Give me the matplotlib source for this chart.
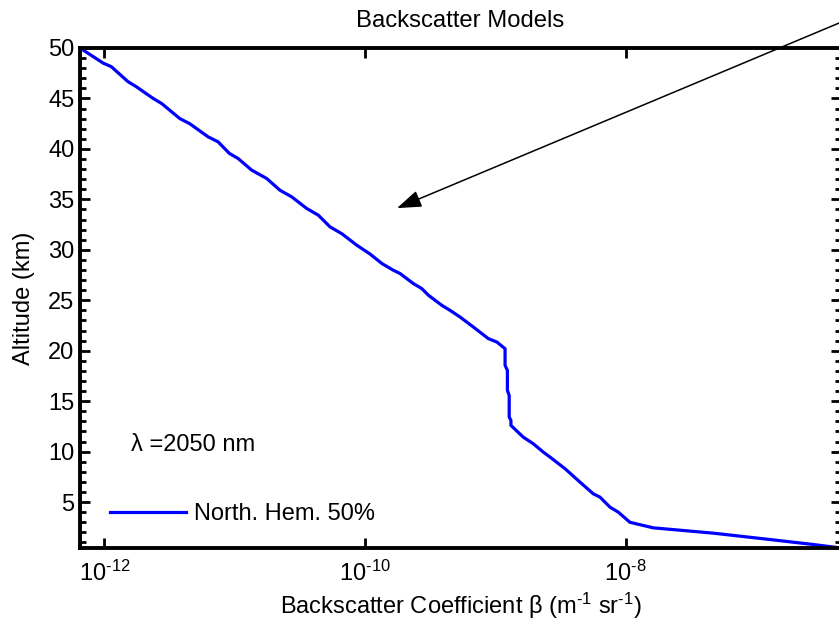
import numpy as np
import matplotlib
matplotlib.use("Agg")
from matplotlib import pyplot as plt
from matplotlib.ticker import FixedLocator, FixedFormatter, NullLocator, MultipleLocator

plt.rcParams['font.family'] = ['Liberation Sans', 'DejaVu Sans']
plt.rcParams['mathtext.fontset'] = 'custom'
plt.rcParams['mathtext.rm'] = 'Liberation Sans'
plt.rcParams['mathtext.it'] = 'Liberation Sans'
plt.rcParams['axes.unicode_minus'] = False
plt.rcParams['font.size'] = 17

# profile: altitude (km) vs backscatter (m^-1 sr^-1)
altitude = [50.0, 48.5, 48.15, 46.66, 46.16, 45.0, 44.5, 43.0, 42.5, 41.2,
            40.7, 39.55, 39.06, 37.9, 37.07, 35.9, 35.25, 34.1, 33.43, 32.27,
            31.6, 30.46, 29.6, 28.64, 27.98, 27.65, 26.66, 26.16, 25.5, 24.5,
            24.0, 23.34, 22.35, 21.2, 20.86, 20.2, 18.55, 18.05, 16.07, 15.57,
            13.42, 13.1, 12.6, 11.44, 10.78, 9.95, 9.45, 8.3, 6.97, 5.82,
            5.49, 4.5, 4.0, 3.0, 2.45, 1.92, 1.36, 0.8, 0.47]
beta = [6.50e-13, 9.8e-13, 1.13e-12, 1.52e-12, 1.76e-12, 2.37e-12, 2.75e-12, 3.80e-12, 4.52e-12, 6.25e-12,
        7.46e-12, 9.12e-12, 1.06e-11, 1.35e-11, 1.76e-11, 2.23e-11, 2.74e-11, 3.57e-11, 4.39e-11, 5.40e-11,
        6.64e-11, 8.65e-11, 1.09e-10, 1.35e-10, 1.65e-10, 1.86e-10, 2.35e-10, 2.73e-10, 3.07e-10, 3.89e-10,
        4.50e-10, 5.37e-10, 6.79e-10, 8.85e-10, 1.03e-9, 1.19e-9, 1.19e-9, 1.24e-9, 1.24e-9, 1.28e-9,
        1.28e-9, 1.32e-9, 1.32e-9, 1.64e-9, 1.96e-9, 2.34e-9, 2.64e-9, 3.44e-9, 4.48e-9, 5.66e-9,
        6.37e-9, 7.60e-9, 8.81e-9, 1.08e-8, 1.63e-8, 4.72e-8, 1.15e-7, 2.75e-7, 4.37e-7]

x_ticks = [1e-12, 1e-10, 1e-8]
x_tick_labels = [r'10$^{\text{-12}}$', r'10$^{\text{-10}}$', r'10$^{\text{-8}}$']
y_ticks = [5, 10, 15, 20, 25, 30, 35, 40, 45, 50]

fig = plt.figure(figsize=(8.39, 6.29), dpi=100)
ax = fig.add_axes([80 / 839, 1 - 548 / 629, 761 / 839, 500 / 629])

ax.semilogx(beta, altitude, color='#0000ff', lw=2.3, label='North. Hem. 50%')
ax.set_xlim(10 ** -12.187, 10 ** -6.346)
ax.set_ylim(0.45, 50)

ax.xaxis.set_major_locator(FixedLocator(x_ticks))
ax.xaxis.set_major_formatter(FixedFormatter(x_tick_labels))
ax.xaxis.set_minor_locator(NullLocator())
ax.set_yticks(y_ticks)
ax.yaxis.set_minor_locator(MultipleLocator(1))

for s in ax.spines.values():
    s.set_linewidth(2.8)
ax.tick_params(which='both', direction='in', top=True, right=True, width=2.0)
ax.tick_params(which='major', length=7.5)
ax.tick_params(which='minor', length=4)
ax.tick_params(axis='x', pad=9)
ax.tick_params(axis='y', pad=4)

ax.set_title('Backscatter Models', pad=15, fontsize=17.2)
ax.set_xlabel(r'Backscatter Coefficient β (m$^{\text{-1}}$ sr$^{\text{-1}}$)', labelpad=4)
ax.set_ylabel('Altitude (km)', labelpad=9.6)

ax.text(0.067, 0.206, 'λ =2050 nm', transform=ax.transAxes, va='center', ha='left')
ax.legend(loc='center left', bbox_to_anchor=(0.0394, 0.068), frameon=False,
          borderpad=0, borderaxespad=0, handlelength=3.2, handletextpad=0.35)

ax.annotate('', xy=(10 ** -9.754, 34.13), xycoords='data',
            xytext=(939, 647.8), textcoords='figure pixels', annotation_clip=False,
            arrowprops=dict(arrowstyle='-|>,head_length=1.0,head_width=0.35',
                            mutation_scale=15, color='k', lw=1.1, shrinkA=0, shrinkB=0))

plt.savefig('out.png', dpi=100)
